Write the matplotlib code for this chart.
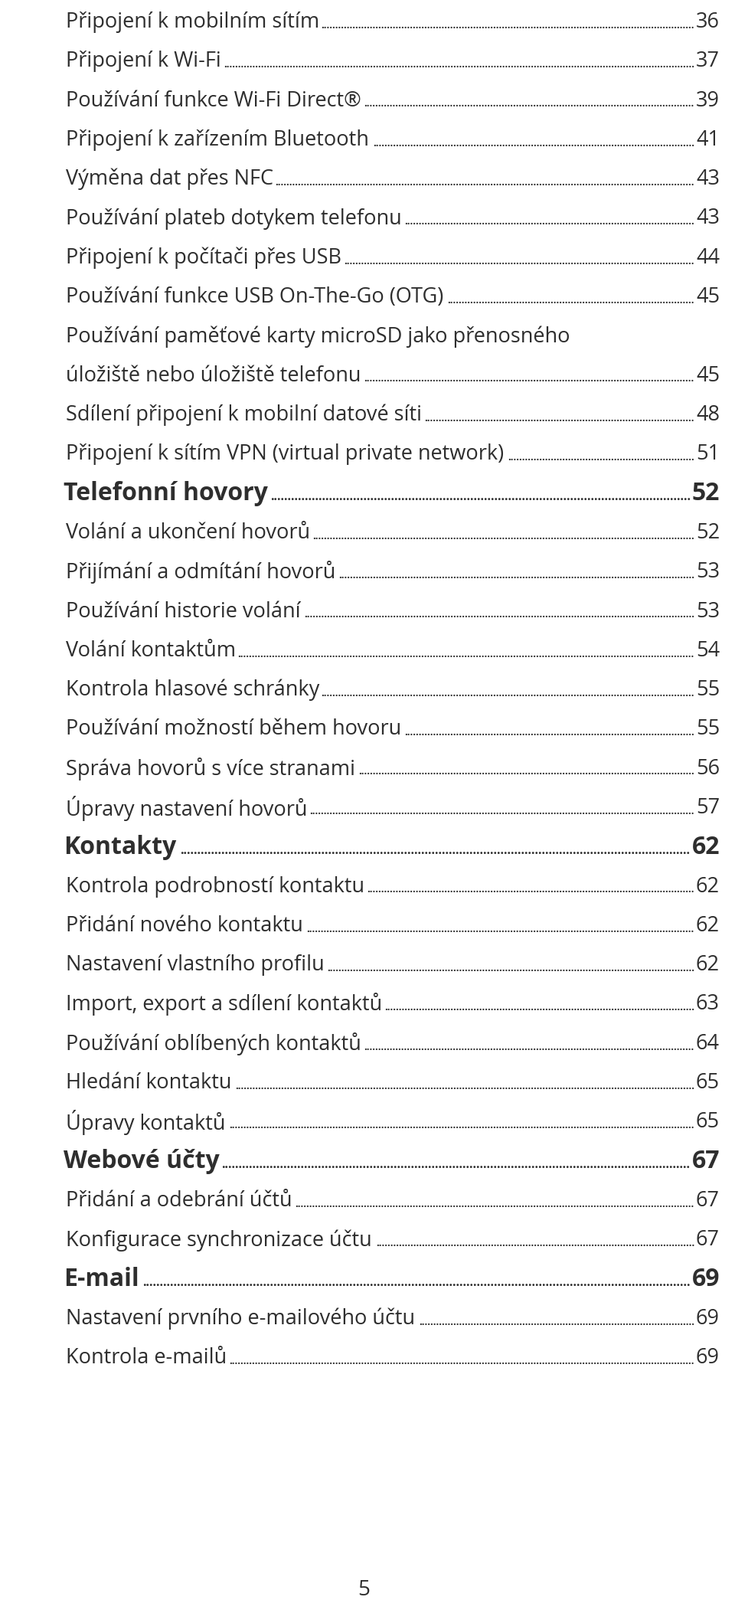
import matplotlib
matplotlib.use("Agg")
import matplotlib.pyplot as plt

titles = ["Připojení k mobilním sítím", "Připojení k Wi-Fi", "Používání funkce Wi-Fi Direct®",
          "Připojení k zařízením Bluetooth", "Výměna dat přes NFC", "Používání plateb dotykem telefonu",
          "Připojení k počítači přes USB", "Používání funkce USB On-The-Go (OTG)",
          "Používání paměťové karty microSD jako přenosného", "úložiště nebo úložiště telefonu",
          "Sdílení připojení k mobilní datové síti", "Připojení k sítím VPN (virtual private network)",
          "Telefonní hovory", "Volání a ukončení hovorů", "Přijímání a odmítání hovorů",
          "Používání historie volání", "Volání kontaktům", "Kontrola hlasové schránky",
          "Používání možností během hovoru", "Správa hovorů s více stranami", "Úpravy nastavení hovorů",
          "Kontakty", "Kontrola podrobností kontaktu", "Přidání nového kontaktu",
          "Nastavení vlastního profilu", "Import, export a sdílení kontaktů",
          "Používání oblíbených kontaktů", "Hledání kontaktu", "Úpravy kontaktů",
          "Webové účty", "Přidání a odebrání účtů", "Konfigurace synchronizace účtu",
          "E-mail", "Nastavení prvního e-mailového účtu", "Kontrola e-mailů"]
pages = ["36", "37", "39", "41", "43", "43", "44", "45", "", "45", "48", "51",
         "52", "52", "53", "53", "54", "55", "55", "56", "57",
         "62", "62", "62", "62", "63", "64", "65", "65",
         "67", "67", "67", "69", "69", "69"]
headings = {"Telefonní hovory", "Kontakty", "Webové účty", "E-mail"}
footer = "5"

W, H = 960, 2089
fig = plt.figure(figsize=(W/100, H/100), dpi=100)
ax = fig.add_axes([0, 0, 1, 1])
ax.set_xlim(0, W); ax.set_ylim(H, 0); ax.axis("off")
color = "#2e2e2e"
fam = "Open Sans"
x1 = 940
y0, pitch = 29, 51.3
fig.canvas.draw()
r = fig.canvas.get_renderer()

def width(s, size, weight):
    t = ax.text(0, 0, s, fontsize=size, fontweight=weight, family=fam)
    w = t.get_window_extent(r).width
    t.remove()
    return w

for i, (t, p) in enumerate(zip(titles, pages)):
    y = y0 + i * pitch
    head = t in headings
    size = 23 if head else 19.5
    wt = "bold" if head else "normal"
    xs = 86 if not head else 83
    ax.text(xs, y, t, fontsize=size, fontweight=wt, family=fam, color=color, va="center")
    if p:
        ax.text(x1, y, p, fontsize=size, fontweight=wt, family=fam, color=color, va="center", ha="right")
        tw = width(t, size, wt)
        pw = width(p, size, wt)
        dsize = size * 0.5
        dw = width("." * 40, dsize, "bold") / 40
        gap = (x1 - pw - 2) - (xs + tw + 2)
        n = max(int(gap / dw), 0)
        ax.text(x1 - pw - 2, y + size * 0.55, "." * n, fontsize=dsize, fontweight="bold", family=fam,
                color=color, va="bottom", ha="right")

ax.text(475, 2076, footer, fontsize=20, family=fam, color=color, ha="center", va="center")
fig.savefig("out.png", dpi=100, facecolor="white")
